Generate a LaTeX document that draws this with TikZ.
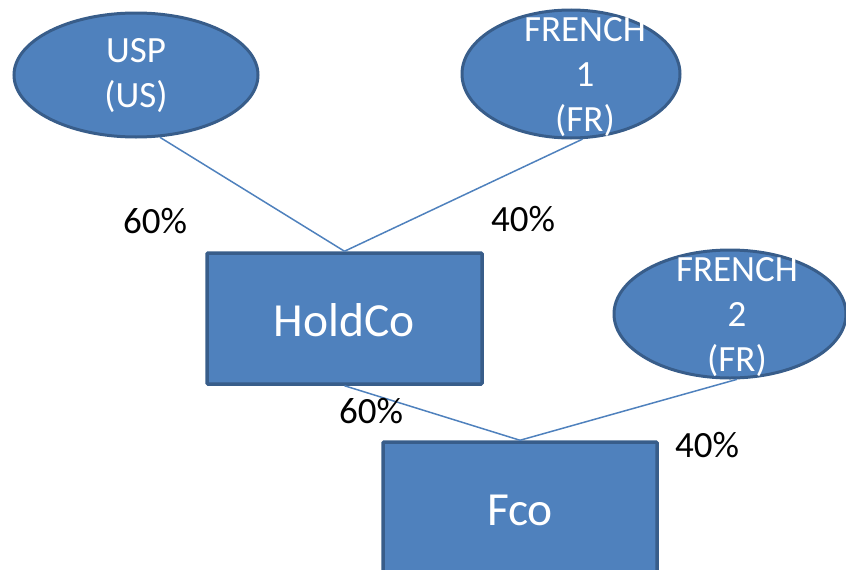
\documentclass[tikz,border=0pt]{standalone}
\usepackage{fontspec}
\setmainfont{Carlito}
\usetikzlibrary{shapes.geometric}
\definecolor{boxfill}{HTML}{4F81BD}
\definecolor{boxedge}{HTML}{385D8A}
\tikzset{
  oval/.style={ellipse, draw=boxedge, fill=boxfill, line width=3pt, inner sep=0pt},
  entity/.style={rectangle, draw=boxedge, fill=boxfill, line width=3.5pt, inner sep=0pt, rounded corners=1pt},
  small/.style={text=white, font=\fontsize{37}{45}\selectfont, align=center, inner sep=0pt},
  big/.style={text=white, font=\fontsize{47.5}{56}\selectfont, inner sep=0pt},
  pct/.style={text=black, font=\fontsize{37}{42}\selectfont, inner sep=0pt},
  link/.style={draw=boxfill, line width=1.5pt}
}
\begin{document}
\begin{tikzpicture}[x=1pt,y=-1pt]
\useasboundingbox (0,0) rectangle (846,570);
% nodes
\node[oval, minimum width=244pt, minimum height=124pt] (usp) at (136,75) {};
\node[oval, minimum width=218pt, minimum height=128pt] (fr1) at (571,74) {};
\node[oval, minimum width=232pt, minimum height=128pt] (fr2) at (730,314) {};
\node[entity, minimum width=275pt, minimum height=131pt] (hold) at (344.5,318.5) {};
\node[entity, minimum width=274pt, minimum height=140pt] (fco) at (520,512) {};
% texts
\node[small] (uspT) at (136,76) {USP\\(US)};
\node[small] (fr1T) at (585,77) {FRENCH\\1\\(FR)};
\node[small] (fr2T) at (737,317) {FRENCH\\2\\(FR)};
\node[big] (holdT) at (344,320) {HoldCo};
\node[big] (fcoT) at (520,510) {Fco};
% connectors
\draw[link] (usp.-69) -- (hold.north);
\draw[link] (fr1.-80) -- (hold.north);
\draw[link] (hold.south) -- (fco.north);
\draw[link] (fr2.-84) -- (fco.north);
% percentages
\node[pct] (p1) at (155,221) {60\%};
\node[pct] (p2) at (523,219) {40\%};
\node[pct] (p3) at (371,411) {60\%};
\node[pct] (p4) at (707,445) {40\%};
\end{tikzpicture}
\end{document}
